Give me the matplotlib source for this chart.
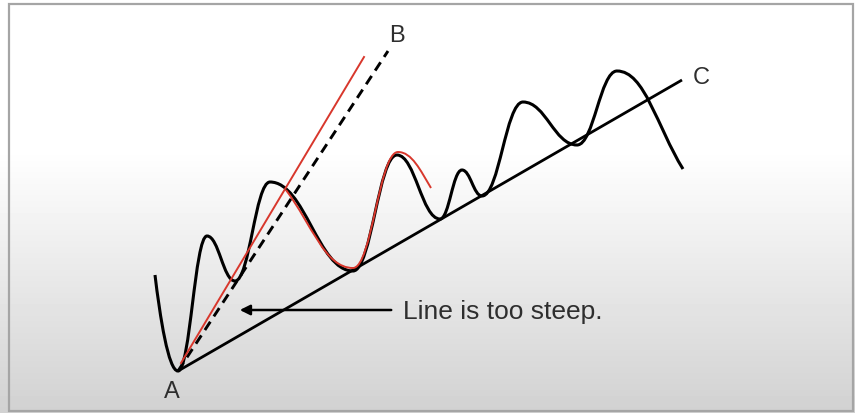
import numpy as np
import matplotlib.pyplot as plt
from matplotlib.path import Path
from matplotlib.patches import PathPatch, Rectangle

# price wave: start, then alternating troughs / peaks, then end point (pixel coords)
wave_x = [155, 178, 207, 235, 270, 353, 397, 440, 462, 482, 523, 577, 617, 683]
wave_y = [276, 372, 237, 282, 183, 272, 156, 220, 171, 197, 103, 146, 72, 170]

# red hand-drawn overlay on the middle swing
red_x = [286, 353, 398, 431]
red_y = [191, 269, 153, 189]

# lines drawn from point A
trend_x = [178, 682]
trend_y = [372, 81]
steep_x = [178, 388]
steep_y = [372, 52]
red_line_x = [181, 364]
red_line_y = [364, 58]

labels = ["A", "B", "C"]
label_x = [172, 397, 701]
label_y = [392, 36, 78]

note = "Line is too steep."
arrow_x = [394, 237]
arrow_y = [311, 311]


def smooth_path(xs, ys, start_dir, end_dir, k=0.42):
    """ Bezier path through extremes with flat tangents, free ends use given direction. """
    pts = np.column_stack([xs, ys]).astype(float)
    verts = [pts[0]]
    codes = [Path.MOVETO]
    n = len(pts)
    for i in range(n - 1):
        p0, p1 = pts[i], pts[i + 1]
        dx = p1[0] - p0[0]
        seg = np.hypot(*(p1 - p0))
        if i == 0:
            d = np.array(start_dir, float)
            c1 = p0 + d / np.hypot(*d) * k * seg
        else:
            c1 = p0 + np.array([k * dx, 0])
        if i == n - 2:
            d = np.array(end_dir, float)
            c2 = p1 - d / np.hypot(*d) * k * seg
        else:
            c2 = p1 - np.array([k * dx, 0])
        verts += [c1, c2, p1]
        codes += [Path.CURVE4] * 3
    return Path(verts, codes)


fig = plt.figure(figsize=(8.55, 4.14), dpi=100)
ax = fig.add_axes([0, 0, 1, 1])
ax.set_xlim(0, 855)
ax.set_ylim(414, 0)
ax.set_axis_off()

# background: white top fading to light grey
rows = np.arange(414)
shade = np.where(rows < 150, 1.0, 1.0 - (rows - 150) / 264 * 0.18)
ax.imshow(shade[:, None], cmap='gray', vmin=0, vmax=1, aspect='auto',
          extent=[0, 855, 414, 0], zorder=0)
ax.add_patch(Rectangle((9, 5), 844, 407, fill=False, edgecolor='#a5a5a5', lw=1.6, zorder=1))

# trend lines
ax.plot(trend_x, trend_y, color='black', lw=2.0, solid_capstyle='butt', zorder=3)
ax.plot(steep_x, steep_y, color='black', lw=2.1, dashes=(3.4, 2.2), zorder=3)
ax.plot(red_line_x, red_line_y, color='#d8372c', lw=1.4, zorder=4)

# price wave
wave = smooth_path(wave_x, wave_y, start_dir=(0.12, 1), end_dir=(0.62, 1))
ax.add_patch(PathPatch(wave, fill=False, edgecolor='black', lw=2.2, zorder=3))
red = smooth_path(red_x, red_y, start_dir=(0.75, 1), end_dir=(0.6, 1))
ax.add_patch(PathPatch(red, fill=False, edgecolor='#d8372c', lw=1.4, zorder=4))

# arrow and note
ax.annotate('', xy=(arrow_x[1], arrow_y[1]), xytext=(arrow_x[0], arrow_y[0]),
            arrowprops=dict(arrowstyle='-|>', color='black', lw=1.8, mutation_scale=15),
            zorder=5)
ax.text(arrow_x[0] + 9, arrow_y[0] + 1, note, fontsize=19, family='Liberation Sans',
        color='#2e2e2e', va='center', ha='left', zorder=5)

for lab, lx, ly in zip(labels, label_x, label_y):
    ax.text(lx, ly, lab, fontsize=17, family='Liberation Sans', color='#2e2e2e',
            ha='center', va='center', zorder=5)

fig.savefig('out.png', dpi=100)
